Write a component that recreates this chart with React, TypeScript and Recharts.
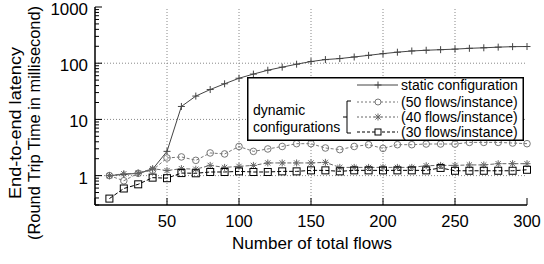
import React from 'react';
import { LineChart, Line, XAxis, YAxis, ReferenceLine, Legend } from 'recharts';

// number of total flows (x)
const flows = [10, 20, 30, 40, 50, 60, 70, 80, 90, 100, 110, 120, 130, 140, 150, 160, 170, 180, 190, 200, 210, 220, 230, 240, 250, 260, 270, 280, 290, 300];

// round trip time in ms
const staticCfg = [1.0, 1.05, 1.1, 1.3, 2.7, 17, 26, 34, 43, 54, 64, 75, 85, 96, 107, 116, 121, 129, 138, 148, 157, 165, 170, 174, 178, 184, 188, 193, 197, 198];
const flows50 = [1.0, 0.81, 1.1, 1.25, 2.06, 2.15, 1.87, 2.53, 2.43, 3.3, 2.7, 2.98, 3.3, 3.7, 3.7, 3.1, 2.9, 3.3, 3.55, 3.05, 3.55, 3.55, 3.65, 3.65, 3.65, 3.9, 3.9, 3.9, 3.8, 3.7];
const flows40 = [1.0, 1.08, 1.1, 1.33, 1.23, 1.33, 1.3, 1.52, 1.4, 1.46, 1.52, 1.68, 1.68, 1.68, 1.68, 1.72, 1.4, 1.4, 1.4, 1.4, 1.4, 1.4, 1.5, 1.52, 1.52, 1.55, 1.55, 1.63, 1.63, 1.63];
const flows30 = [0.39, 0.59, 0.7, 0.92, 0.9, 1.11, 1.1, 1.16, 1.16, 1.19, 1.16, 1.16, 1.19, 1.19, 1.24, 1.24, 1.19, 1.24, 1.24, 1.24, 1.24, 1.24, 1.24, 1.37, 1.22, 1.22, 1.22, 1.22, 1.22, 1.27];

const xTicks = [0, 50, 100, 150, 200, 250, 300];
const yMajor = [1, 10, 100, 1000];
const yMinor = [0.3, 0.4, 0.5, 0.6, 0.7, 0.8, 0.9, 2, 3, 4, 5, 6, 7, 8, 9, 20, 30, 40, 50, 60, 70, 80, 90, 200, 300, 400, 500, 600, 700, 800, 900];
const yTicks = [...yMinor, ...yMajor].sort((a, b) => a - b);

const data = flows.map((f, i) => ({
  flows: f,
  static: staticCfg[i],
  f50: flows50[i],
  f40: flows40[i],
  f30: flows30[i],
}));

const FONT = '"Liberation Sans", Arial, Helvetica, sans-serif';
const LEFT = 95;
const RIGHT = 527;
const TOP = 7;
const BOTTOM = 205;

const C_STATIC = '#444';
const C_50 = '#777';
const C_40 = '#666';
const C_30 = '#000';

const plusPath = (cx: number, cy: number) => `M${cx - 3.5},${cy}h7M${cx},${cy - 3.5}v7`;
const starPath = (cx: number, cy: number) =>
  `M${cx - 3.5},${cy}h7M${cx},${cy - 3.5}v7M${cx - 2.6},${cy - 2.6}l5.2,5.2M${cx - 2.6},${cy + 2.6}l5.2,-5.2`;

const PlusDot = (p: any) => <path key={p.index} d={plusPath(p.cx, p.cy)} stroke={C_STATIC} fill="none" />;
const CircleDot = (p: any) => <circle key={p.index} cx={p.cx} cy={p.cy} r={3.3} stroke={C_50} fill="none" />;
const StarDot = (p: any) => <path key={p.index} d={starPath(p.cx, p.cy)} stroke={C_40} fill="none" />;
const SquareDot = (p: any) => (
  <rect key={p.index} x={p.cx - 3.5} y={p.cy - 3.5} width={7} height={7} stroke={C_30} fill="none" />
);

const BottomTick = (p: any) => {
  const label = String(p.payload.value);
  return (
    <g>
      <line x1={p.x} x2={p.x} y1={BOTTOM} y2={BOTTOM - 7} stroke="#000" />
      {p.payload.value !== 0 && (
        <text
          x={p.x}
          y={227}
          textAnchor="middle"
          fontSize={16}
          fontFamily={FONT}
          fill="#000"
          textLength={label.length * 9.2}
          lengthAdjust="spacingAndGlyphs"
        >
          {label}
        </text>
      )}
    </g>
  );
};

const TopTick = (p: any) => <line x1={p.x} x2={p.x} y1={TOP} y2={TOP + 7} stroke="#000" />;

const LeftTick = (p: any) => {
  const major = yMajor.includes(p.payload.value);
  const label = String(p.payload.value);
  return (
    <g>
      <line x1={LEFT} x2={LEFT + (major ? 7 : 4)} y1={p.y} y2={p.y} stroke="#000" />
      {major && (
        <text
          x={88}
          y={p.y + 8}
          textAnchor="end"
          fontSize={16}
          fontFamily={FONT}
          fill="#000"
          textLength={label.length * 9.4}
          lengthAdjust="spacingAndGlyphs"
        >
          {label}
        </text>
      )}
    </g>
  );
};

const RightTick = (p: any) => {
  const major = yMajor.includes(p.payload.value);
  return <line x1={RIGHT} x2={RIGHT - (major ? 7 : 4)} y1={p.y} y2={p.y} stroke="#000" />;
};

const YTitle = () => (
  <g fontFamily={FONT} fill="#000">
    <text transform="translate(20.5,123) rotate(-90)" textAnchor="middle" fontSize={17} textLength={152} lengthAdjust="spacingAndGlyphs">
      End-to-end latency
    </text>
    <text transform="translate(40,123) rotate(-90)" textAnchor="middle" fontSize={16} textLength={234} lengthAdjust="spacingAndGlyphs">
      (Round Trip Time in millisecond)
    </text>
  </g>
);

const XTitle = () => (
  <text
    x={312}
    y={249}
    textAnchor="middle"
    fontFamily={FONT}
    fontSize={17}
    fill="#000"
    textLength={160}
    lengthAdjust="spacingAndGlyphs"
  >
    Number of total flows
  </text>
);

const LegendBox = () => {
  const sx1 = 110;
  const sx2 = 151;
  const mx = 131;
  const rows = [
    { y: 8, label: 'static configuration', color: C_STATIC, dash: undefined, mark: 'plus' },
    { y: 25, label: '(50 flows/instance)', color: C_50, dash: '2 2', mark: 'circle' },
    { y: 40, label: '(40 flows/instance)', color: C_40, dash: '2 2', mark: 'star' },
    { y: 55, label: '(30 flows/instance)', color: C_30, dash: '3 2', mark: 'square' },
  ];
  return (
    <svg width={277} height={64} style={{ display: 'block' }}>
      <rect x={0.75} y={0.75} width={275.5} height={62.5} fill="#fff" stroke="#000" strokeWidth={1.5} />
      {rows.map((r) => (
        <g key={r.label}>
          <line x1={sx1} x2={sx2} y1={r.y} y2={r.y} stroke={r.color} strokeDasharray={r.dash} />
          {r.mark === 'plus' && <path d={plusPath(mx, r.y)} stroke={r.color} fill="none" />}
          {r.mark === 'circle' && <circle cx={mx} cy={r.y} r={3} stroke={r.color} fill="#fff" />}
          {r.mark === 'star' && <path d={starPath(mx, r.y)} stroke={r.color} fill="none" />}
          {r.mark === 'square' && (
            <rect x={mx - 3} y={r.y - 3} width={6} height={6} stroke={r.color} fill="#fff" />
          )}
          <text x={154} y={r.y + 5} fontFamily={FONT} fontSize={14} fill="#000">
            {r.label}
          </text>
        </g>
      ))}
      <text x={6} y={38} fontFamily={FONT} fontSize={14} fill="#000">dynamic</text>
      <text x={6} y={55} fontFamily={FONT} fontSize={14} fill="#000">configurations</text>
      <path d="M104,24H100V56H104M100,40H96" stroke="#000" fill="none" />
    </svg>
  );
};

export default function App() {
  return (
    <div style={{ position: 'absolute', left: 0, top: 0, background: '#fff' }}>
      <LineChart
        width={544}
        height={264}
        data={data}
        margin={{ top: TOP, right: 544 - RIGHT, left: 0, bottom: 29 }}
      >
        <XAxis
          dataKey="flows"
          type="number"
          domain={[0, 300]}
          ticks={xTicks}
          interval={0}
          height={30}
          tickLine={false}
          tick={<BottomTick />}
          axisLine={{ stroke: '#000', strokeWidth: 1.5 }}
          label={{ content: () => <XTitle /> }}
        />
        <XAxis
          xAxisId="top"
          orientation="top"
          dataKey="flows"
          type="number"
          domain={[0, 300]}
          ticks={xTicks}
          interval={0}
          height={0}
          tickLine={false}
          tick={<TopTick />}
          axisLine={{ stroke: '#000', strokeWidth: 1.5 }}
        />
        <YAxis
          scale="log"
          type="number"
          domain={[0.3, 1000]}
          allowDataOverflow
          ticks={yTicks}
          interval={0}
          width={LEFT}
          tickLine={false}
          tick={<LeftTick />}
          axisLine={{ stroke: '#000', strokeWidth: 1.5 }}
          label={{ content: () => <YTitle /> }}
        />
        <YAxis
          yAxisId="right"
          orientation="right"
          scale="log"
          type="number"
          domain={[0.3, 1000]}
          allowDataOverflow
          ticks={yTicks}
          interval={0}
          width={0}
          tickLine={false}
          tick={<RightTick />}
          axisLine={{ stroke: '#000', strokeWidth: 1.5 }}
        />
        {[50, 100, 150, 200, 250].map((v) => (
          <ReferenceLine key={'x' + v} x={v} stroke="#888" strokeDasharray="1 2" />
        ))}
        {[1, 10, 100].map((v) => (
          <ReferenceLine key={'y' + v} y={v} stroke="#888" strokeDasharray="1 2" />
        ))}
        <Line
          dataKey="static"
          stroke={C_STATIC}
          strokeWidth={1}
          dot={PlusDot}
          isAnimationActive={false}
        />
        <Line
          dataKey="f50"
          stroke={C_50}
          strokeWidth={1}
          strokeDasharray="3 2"
          dot={CircleDot}
          isAnimationActive={false}
        />
        <Line
          dataKey="f40"
          stroke={C_40}
          strokeWidth={1}
          strokeDasharray="4 2"
          dot={StarDot}
          isAnimationActive={false}
        />
        <Line
          dataKey="f30"
          stroke={C_30}
          strokeWidth={1}
          strokeDasharray="4 2"
          dot={SquareDot}
          isAnimationActive={false}
        />
        <Legend
          layout="horizontal"
          verticalAlign="middle"
          align="center"
          content={() => <LegendBox />}
          wrapperStyle={{ position: 'absolute', left: 247, top: 77, width: 277, height: 64 }}
        />
      </LineChart>
    </div>
  );
}
